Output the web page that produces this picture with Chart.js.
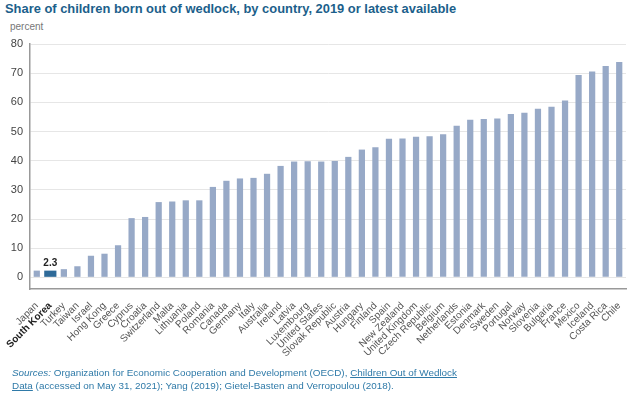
<!DOCTYPE html>
<html>
<head>
<meta charset="utf-8">
<script src="https://cdn.jsdelivr.net/npm/chart.js@4"></script>
<style>
    body { margin: 0; width: 638px; height: 394px; background: #fff; position: relative; overflow: hidden; font-family: "Liberation Sans", Arial, sans-serif; }
    #title { position: absolute; left: 5px; top: 1px; font-size: 12.9px; font-weight: bold; color: #1c5f8b; white-space: nowrap; }
    #unit { position: absolute; left: 10px; top: 21px; font-size: 10px; color: #777; }
    #chartBox { position: absolute; left: 0; top: 0; width: 638px; height: 394px; }
    #source { position: absolute; left: 12px; top: 367px; font-size: 9.9px; line-height: 12.5px; color: #2f7aa8; white-space: nowrap; }
    #source a { color: #2f7aa8; text-decoration: underline; }
</style>
</head>
<body>
<div id="title">Share of children born out of wedlock, by country, 2019 or latest available</div>
<div id="unit">percent</div>
<div id="chartBox"><canvas id="chart"></canvas></div>
<div id="source"><i>Sources:</i> Organization for Economic Cooperation and Development (OECD), <a>Children Out of Wedlock </a><br><a>Data</a> (accessed on May 31, 2021); Yang (2019); Gietel-Basten and Verropoulou (2018).</div>
<script>
const countries = ['Japan', 'South Korea', 'Turkey', 'Taiwan', 'Israel', 'Hong Kong', 'Greece', 'Cyprus', 'Croatia', 'Switzerland',
    'Malta', 'Lithuania', 'Poland', 'Romania', 'Canada', 'Germany', 'Italy', 'Australia', 'Ireland', 'Latvia',
    'Luxembourg', 'United States', 'Slovak Republic', 'Austria', 'Hungary', 'Finland', 'Spain', 'New Zealand', 'United Kingdom', 'Czech Republic',
    'Belgium', 'Netherlands', 'Estonia', 'Denmark', 'Sweden', 'Portugal', 'Norway', 'Slovenia', 'Bulgaria', 'France',
    'Mexico', 'Iceland', 'Costa Rica', 'Chile'];
const shares = [2.3, 2.3, 2.8, 3.8, 7.4, 8.1, 11.0, 20.3, 20.7, 25.8,
    26.0, 26.4, 26.4, 31.0, 33.1, 33.9, 34.1, 35.5, 38.2, 39.7,
    39.8, 39.7, 39.9, 41.3, 43.8, 44.6, 47.5, 47.6, 48.2, 48.4,
    49.1, 52.0, 54.0, 54.3, 54.5, 56.0, 56.4, 57.8, 58.5, 60.6,
    69.4, 70.6, 72.5, 73.8];
const highlight = 'South Korea';
const yTicks = [0, 10, 20, 30, 40, 50, 60, 70, 80];

const hiIdx = countries.indexOf(highlight);
const otherData = shares.map((v, i) => i === hiIdx ? null : v);
const hiData = shares.map((v, i) => i === hiIdx ? v : null);

// label over the highlighted bar
const valueLabel = {
    id: 'valueLabel',
    afterDatasetsDraw(chart) {
        const bar = chart.getDatasetMeta(1).data[hiIdx];
        const ctx = chart.ctx;
        ctx.save();
        ctx.font = 'bold 10px "Liberation Sans", Arial, sans-serif';
        ctx.fillStyle = '#222';
        ctx.textAlign = 'center';
        ctx.textBaseline = 'bottom';
        ctx.fillText(shares[hiIdx].toFixed(1), bar.x, bar.y - 2);
        ctx.restore();
    }
};

new Chart(document.getElementById('chart'), {
    type: 'bar',
    data: {
        labels: countries,
        datasets: [
            { data: otherData, backgroundColor: '#97a9c7', barPercentage: 0.46, categoryPercentage: 1, grouped: false },
            { data: hiData, backgroundColor: '#2e6a98', barPercentage: 0.9, categoryPercentage: 1, grouped: false }
        ]
    },
    options: {
        responsive: true,
        maintainAspectRatio: false,
        animation: false,
        layout: { padding: { top: 44, right: 12, left: 0, bottom: 0 } },
        plugins: { legend: { display: false }, tooltip: { enabled: false } },
        scales: {
            x: {
                grid: { display: false },
                border: { display: true, color: '#999', width: 1.5 },
                ticks: {
                    autoSkip: false, minRotation: 45, maxRotation: 45, padding: 3,
                    color: c => c.index === hiIdx ? '#222' : '#555',
                    font: c => ({ family: '"Liberation Sans", Arial, sans-serif', size: 10, weight: c.index === hiIdx ? 'bold' : 'normal' })
                },
                afterFit: s => { s.height = 105; }
            },
            y: {
                min: -4, max: 80,
                afterBuildTicks: s => { s.ticks = [-4].concat(yTicks).map(v => ({ value: v })); },
                grid: { drawTicks: false, color: c => c.tick && c.tick.value < 0 ? 'rgba(0,0,0,0)' : '#e6e6e6', lineWidth: 1 },
                border: { display: true, color: '#999', width: 1.5 },
                ticks: {
                    padding: 7, color: '#444',
                    font: { family: '"Liberation Sans", Arial, sans-serif', size: 11 },
                    callback: v => v < 0 ? '' : v
                },
                afterFit: s => { s.width = 30; }
            }
        }
    },
    plugins: [valueLabel]
});
</script>
</body>
</html>
